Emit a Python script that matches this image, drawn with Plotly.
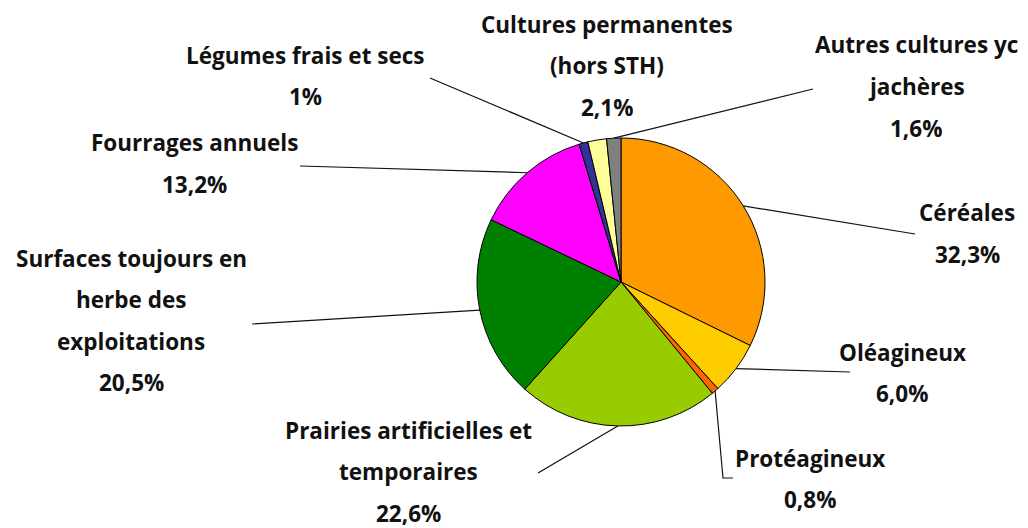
import math
import plotly.graph_objects as go

# ---- data ----
categories = ["Céréales", "Oléagineux", "Protéagineux",
              "Prairies artificielles et temporaires",
              "Surfaces toujours en herbe des exploitations",
              "Fourrages annuels", "Légumes frais et secs",
              "Cultures permanentes (hors STH)", "Autres cultures yc jachères"]
values = [32.3, 6.0, 0.8, 22.6, 20.5, 13.2, 1.0, 2.1, 1.6]
label_lines = [["Céréales"], ["Oléagineux"], ["Protéagineux"],
               ["Prairies artificielles et", "temporaires"],
               ["Surfaces toujours en", "herbe des", "exploitations"],
               ["Fourrages annuels"], ["Légumes frais et secs"],
               ["Cultures permanentes", "(hors STH)"],
               ["Autres cultures yc", "jachères"]]
pct_labels = ["32,3%", "6,0%", "0,8%", "22,6%", "20,5%", "13,2%", "1%", "2,1%", "1,6%"]
colors = ["#FF9900", "#FFCC00", "#FF6600", "#99CC00", "#008000",
          "#FF00FF", "#333399", "#FFFF99", "#808080"]

# ---- layout (pixels, in the 1028x528 window) ----
OFF = 8                      # page body margin
W, H = 1028 - OFF, 528 - OFF
CX, CY, R = 621, 282, 144
LINE_H = 41.5
# label text: (center x, y of first line)
label_pos = [(967, 213), (902, 352), (810, 458), (408, 430), (131, 258),
             (194, 143), (305, 55), (607, 24), (916, 45)]
# leader lines: outer points after the slice anchor; None = no line
leader_pts = [[(915, 234)], [(850, 372)], [(723, 478), (733, 478)],
              [(538, 473)], [(252, 324)], [(300, 166)], [(430, 78)],
              None, [(813, 89)]]

FONT = "Open Sans"
FS = 22.5


def px(x):
    return (x - OFF) / W


def py(y):
    return 1 - (y - OFF) / H


fig = go.Figure(go.Pie(
    labels=categories, values=values, sort=False, direction="clockwise",
    rotation=0, textinfo="none", hoverinfo="label+percent",
    marker=dict(colors=colors, line=dict(color="#000000", width=1)),
    domain=dict(x=[px(CX - R), px(CX + R)], y=[py(CY + R), py(CY - R)]),
    showlegend=False,
))

total = sum(values)
shapes = []
annotations = []
cum = 0.0
for i, v in enumerate(values):
    mid = (cum + v / 2) / total * 2 * math.pi
    cum += v
    ax = CX + R * math.sin(mid)
    ay = CY - R * math.cos(mid)
    if leader_pts[i]:
        pts = [(ax, ay)] + leader_pts[i]
        path = "M " + " L ".join(f"{px(x):.5f},{py(y):.5f}" for x, y in pts)
        shapes.append(dict(type="path", xref="paper", yref="paper", path=path,
                           line=dict(color="#111111", width=1.2)))
    lx, ly = label_pos[i]
    for j, t in enumerate(label_lines[i] + [pct_labels[i]]):
        annotations.append(dict(
            x=px(lx), y=py(ly + j * LINE_H), xref="paper", yref="paper",
            text=f"<b>{t}</b>", showarrow=False, xanchor="center", yanchor="middle",
            font=dict(family=FONT, size=FS, color="#111111")))

fig.update_layout(
    width=W, height=H, margin=dict(l=0, r=0, t=0, b=0),
    paper_bgcolor="white", plot_bgcolor="white",
    shapes=shapes, annotations=annotations,
)
fig.write_html("out.html")
